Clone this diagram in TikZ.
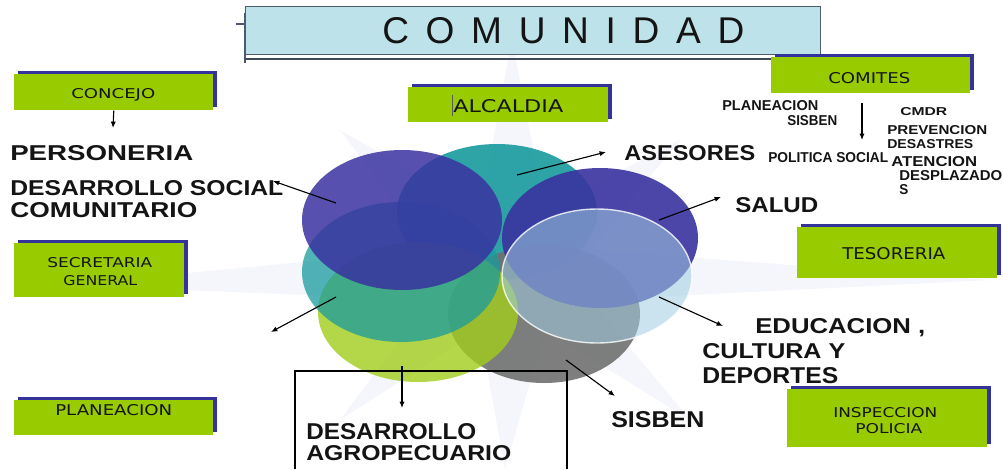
\documentclass[tikz,border=0pt]{standalone}
\usepackage{fontspec}
\setmainfont{Liberation Sans}
\newfontfamily\boxfont{DejaVu Sans}
\usepackage{graphicx}
\usetikzlibrary{arrows.meta,shadows,shapes.geometric}
\newlength\pxu \setlength\pxu{0.025cm}
\newcommand\fitt[3]{\resizebox{#1\pxu}{#2\pxu}{#3}}
\newcommand\ls{\hspace{0.45em}}
\definecolor{gboxc}{RGB}{153,204,0}
\definecolor{navyc}{RGB}{51,51,153}
\definecolor{skyc}{RGB}{190,226,234}
\definecolor{framec}{RGB}{80,90,110}
\definecolor{ebl}{RGB}{58,50,160}
\definecolor{etl}{RGB}{25,155,158}
\definecolor{egr}{RGB}{162,204,28}
\definecolor{egy}{RGB}{112,112,112}
\definecolor{elb}{RGB}{160,205,225}
\definecolor{ink}{RGB}{20,20,20}
\definecolor{wmc}{RGB}{226,230,248}
\begin{document}
\begin{tikzpicture}[x=0.025cm,y=-0.025cm,
  gbox/.style={fill=gboxc, draw=none, inner sep=0, anchor=north west,
    drop shadow={shadow xshift=0.1cm, shadow yshift=0.075cm, fill=navyc, opacity=1}},
  txt/.style={inner sep=0, text=ink, anchor=base west},
  btxt/.style={txt, font=\boxfont},
  big/.style={txt, font=\bfseries},
  small/.style={txt, font=\bfseries},
  ell/.style={ellipse, inner sep=0, draw=none, fill opacity=0.9},
  arr/.style={draw=black, line width=0.8pt, -{Latex[length=0.16cm,width=0.13cm]}}]
\useasboundingbox (0,0) rectangle (1003,469);
\fill[white] (0,0) rectangle (1003,469);
% faint watermark star
\fill[wmc, opacity=0.35] (512,40) -- (545,210) -- (680,140) -- (590,250) -- (990,280) -- (590,300) -- (690,420) -- (545,330) -- (505,469) -- (480,330) -- (340,420) -- (430,300) -- (60,285) -- (430,250) -- (340,130) -- (480,210) -- cycle;

% title
\node[fill=skyc, draw=framec, line width=0.8pt, inner sep=0, anchor=north west,
  minimum width=575*\pxu, minimum height=48*\pxu] (bComunidad) at (245,6) {};
\draw[framec, line width=1.2pt] (245,13) -- (245,63);
\draw[framec, line width=1pt] (236,24) -- (245,24);
\draw[framec!80!black, line width=1.2pt] (245,59) -- (820,59);
\node[txt] (tComunidad) at (382,43) {\fitt{362}{26}{C\ls O\ls M\ls U\ls N\ls I\ls D\ls A\ls D}};

% green boxes
\node[gbox, minimum width=199*\pxu, minimum height=36*\pxu] (bConcejo) at (14,74) {};
\node[gbox, minimum width=200*\pxu, minimum height=35*\pxu] (bAlcaldia) at (408,87) {};
\node[gbox, minimum width=199*\pxu, minimum height=36*\pxu] (bComites) at (771,57) {};
\node[gbox, minimum width=170*\pxu, minimum height=54*\pxu] (bSecretaria) at (14,243) {};
\node[gbox, minimum width=200*\pxu, minimum height=51*\pxu] (bTesoreria) at (797,227) {};
\node[gbox, minimum width=199*\pxu, minimum height=35*\pxu] (bPlaneacion) at (14,400) {};
\node[gbox, minimum width=200*\pxu, minimum height=58*\pxu] (bInspeccion) at (787,389) {};

\node[btxt] (tConcejo) at (71,98) {\fitt{84}{10}{CONCEJO}};
\node[btxt] (tAlcaldia) at (453,112) {\fitt{110}{13}{ALCALDIA}};
\draw[ink!70, line width=0.4pt] (452,95) -- (452,116);
\node[btxt] (tComites) at (828,83) {\fitt{82}{11}{COMITES}};
\node[btxt] (tSecretaria) at (47,267) {\fitt{105}{10}{SECRETARIA}};
\node[btxt] (tGeneral) at (63,285) {\fitt{74}{10}{GENERAL}};
\node[btxt] (tTesoreria) at (842,259) {\fitt{103}{12}{TESORERIA}};
\node[btxt] (tPlaneacion) at (55,415) {\fitt{117}{11}{PLANEACION}};
\node[btxt] (tInspeccion) at (833,417) {\fitt{104}{10}{INSPECCION}};
\node[btxt] (tPolicia) at (855,433) {\fitt{67}{10}{POLICIA}};

% small bold texts
\node[small] (sPlaneacion) at (722,110) {\fitt{96}{10}{PLANEACION}};
\node[small] (sSisben) at (787,125) {\fitt{50}{10}{SISBEN}};
\node[small] (sPolitica) at (768,162) {\fitt{120}{10}{POLITICA SOCIAL}};
\node[small] (sCmdr) at (900,115) {\fitt{47}{8}{CMDR}};
\node[small] (sPrevencion) at (887,134) {\fitt{100}{9}{PREVENCION}};
\node[small] (sDesastres) at (887,148) {\fitt{86}{9}{DESASTRES}};
\node[small] (sAtencion) at (891,166) {\fitt{86}{10}{ATENCION}};
\node[small] (sDesplazado) at (899,180) {\fitt{103}{10}{DESPLAZADO}};
\node[small] (sS) at (899,194) {\fitt{9}{10}{S}};

% ellipses
\node[ell, fill=etl, minimum width=200*\pxu, minimum height=136*\pxu] (eTealTop) at (497,212) {};
\node[ell, fill=egy, minimum width=192*\pxu, minimum height=138*\pxu] (eGray) at (544,314) {};
\node[ell, fill=egr, fill opacity=0.8, minimum width=200*\pxu, minimum height=140*\pxu] (eGreen) at (418,312) {};
\node[ell, fill=ebl, minimum width=196*\pxu, minimum height=140*\pxu] (eBlueRight) at (600,238) {};
\node[ell, fill=etl, fill opacity=0.75, minimum width=198*\pxu, minimum height=140*\pxu] (eTealLeft) at (401,272) {};
\node[ell, fill=ebl, fill opacity=0.85, minimum width=200*\pxu, minimum height=140*\pxu] (eBlueLeft) at (402,220) {};
\node[ell, fill=elb, fill opacity=0.55, draw=white, line width=1pt, draw opacity=0.8, minimum width=190*\pxu, minimum height=134*\pxu] (eLight) at (597,276) {};

% large labels
\node[big] (lPersoneria) at (10,160) {\fitt{183}{15}{PERSONERIA}};
\node[big] (lDesSocial) at (10,195) {\fitt{273}{15}{DESARROLLO SOCIAL}};
\node[big] (lComunitario) at (10,217) {\fitt{187}{15}{COMUNITARIO}};
\node[big] (lAsesores) at (624,160) {\fitt{131}{15}{ASESORES}};
\node[big] (lSalud) at (735,212) {\fitt{83}{15}{SALUD}};
\node[big] (lEducacion) at (755,333) {\fitt{170}{15}{EDUCACION ,}};
\node[big] (lCultura) at (702,358) {\fitt{143}{15}{CULTURA Y}};
\node[big] (lDeportes) at (702,383) {\fitt{136}{16}{DEPORTES}};
\node[big] (lSisben) at (611,427) {\fitt{93}{16}{SISBEN}};
\node[big] (lDesarrollo) at (306,439) {\fitt{170}{16}{DESARROLLO}};
\node[big] (lAgro) at (306,460) {\fitt{205}{15}{AGROPECUARIO}};

% frame around agro
\draw[black, line width=0.8pt] (295,469) -- (295,371) -- (567,371) -- (567,469);

% arrow coordinates
\coordinate (cConTip) at (113,128);
\coordinate (cComA) at (862,103);
\coordinate (cComB) at (862,140);
\coordinate (cDsA) at (336,203);
\coordinate (cDsB) at (273,181);
\coordinate (cLlA) at (336,297);
\coordinate (cLlB) at (271,332);
\coordinate (cAsA) at (517,175);
\coordinate (cAsB) at (606,152);
\coordinate (cSaA) at (659,220);
\coordinate (cSaB) at (721,197);
\coordinate (cEdA) at (659,297);
\coordinate (cEdB) at (723,326);
\coordinate (cSiA) at (566,360);
\coordinate (cSiB) at (615,396);
\coordinate (cAgA) at (402,366);
\coordinate (cAgB) at (402,408);

\draw[arr] (bConcejo.south) -- (cConTip);
\draw[arr] (cComA) -- (cComB);
\draw[arr] (cDsA) -- (cDsB);
\draw[arr] (cLlA) -- (cLlB);
\draw[arr] (cAsA) -- (cAsB);
\draw[arr] (cSaA) -- (cSaB);
\draw[arr] (cEdA) -- (cEdB);
\draw[arr] (cSiA) -- (cSiB);
\draw[arr] (cAgA) -- (cAgB);
\end{tikzpicture}
\end{document}
